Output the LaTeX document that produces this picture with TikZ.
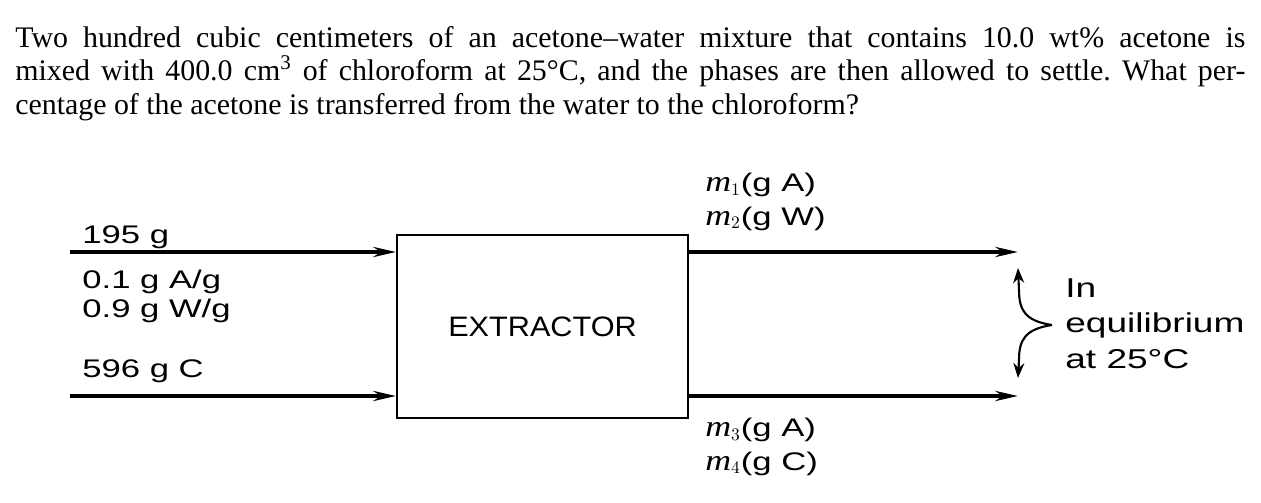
\documentclass[tikz,border=0pt]{standalone}
\usepackage{fontspec}
\setmainfont{Liberation Serif}
\setsansfont{Liberation Sans}
\newfontfamily\lblfont[FakeStretch=1.36]{Liberation Sans}
\newfontfamily\boxfont[FakeStretch=1.09]{Liberation Sans}
\newfontfamily\mfont[FakeStretch=1.2]{Liberation Serif}
\newcommand{\mvar}[1]{{\mfont\itshape\fontsize{17}{19}\selectfont m}$_{#1}$}
\usetikzlibrary{arrows.meta}
\tikzstyle{unit} = [rectangle, draw=black, line width=1.1pt, minimum width=5.82cm, minimum height=3.66cm, text centered, font=\boxfont\fontsize{16}{19}\selectfont]
\tikzstyle{lbl} = [anchor=base west, inner sep=0pt, align=left, font=\lblfont\fontsize{14.5}{16.5}\selectfont]
\tikzset{
  outlbl/.style={
    lbl,
    font=\lblfont\fontsize{14.5}{19}\selectfont % a bit more room between the two lines
  }
}
\tikzstyle{stream} = [line width=2.2pt,->,>={Stealth[length=4.5mm,width=2mm]}]
\tikzstyle{curl} = [line width=1.2pt,->,>={Stealth[length=3mm,width=2.2mm]}]

\begin{document}
\begin{tikzpicture}
    \useasboundingbox (0,0) rectangle (25.22,-10.04);
    \node (prob)[anchor=north west, inner sep=0pt, text width=24.6cm, align=justify, font=\frenchspacing\fontsize{17}{19}\selectfont] at (0.3,-0.52)
      {Two hundred cubic centimeters of an acetone--water mixture that contains 10.0 wt\% acetone is\linebreak
       mixed with 400.0 cm\textsuperscript{3} of chloroform at 25°C, and the phases are then allowed to settle. What per-\linebreak
       centage of the acetone is transferred from the water to the chloroform?};
    \node (box)[unit] at (10.85,-6.53) {EXTRACTOR};
    \coordinate (in1) at (1.4,-5.04);
    \coordinate (in2) at (1.4,-7.92);
    \coordinate (out1) at (20.36,-5.04);
    \coordinate (out2) at (20.36,-7.92);
    % base of a node with several lines = its last line
    \node (feed)[lbl] at (1.64,-4.86) {195 g};
    \node (feedcomp)[lbl] at (1.64,-6.34) {0.1 g A/g\\0.9 g W/g};
    \node (solv)[lbl] at (1.64,-7.54) {596 g C};
    \node (topout)[outlbl] at (14.1,-4.5) {\mvar{1}(g A)\\\mvar{2}(g W)};
    \node (botout)[outlbl] at (14.1,-9.4) {\mvar{3}(g A)\\\mvar{4}(g C)};
    \node (eq)[lbl, font=\lblfont\fontsize{15.5}{20}\selectfont] at (21.3,-7.36) {In\\equilibrium\\at 25°C};
    \draw[stream] (in1)--(in1 -| box.west);
    \draw[stream] (in2)--(in2 -| box.west);
    \draw[stream] (box.east |- out1)--(out1);
    \draw[stream] (box.east |- out2)--(out2);
    % brace with two arrows
    \coordinate (tip) at (21.04,-6.5);
    \coordinate (up) at (20.36,-5.36);
    \coordinate (dn) at (20.36,-7.56);
    \draw[curl] (tip) .. controls (20.5,-6.42) and (20.38,-6.2) .. (20.38,-5.8) -- (up);
    \draw[curl] (tip) .. controls (20.5,-6.58) and (20.38,-6.8) .. (20.38,-7.2) -- (dn);
  \end{tikzpicture}
\end{document}
